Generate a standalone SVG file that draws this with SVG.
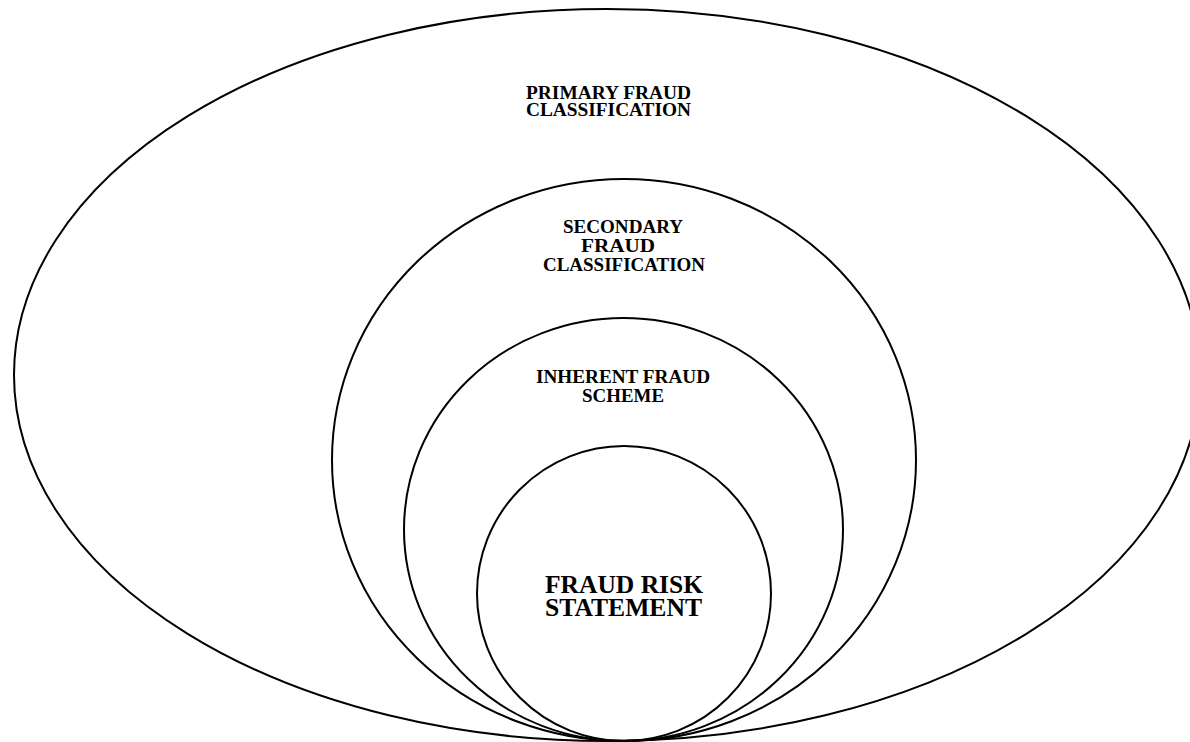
<svg xmlns="http://www.w3.org/2000/svg" width="1190" height="742" viewBox="0 0 1190 742">
<style>
.ring{fill:none;stroke:#000;stroke-width:2}
.lbl{font-family:"Liberation Serif","Times New Roman",serif;font-weight:bold;fill:#000;text-anchor:middle}
.s{font-size:18px}
.b{font-size:25px}
</style>
<rect width="1190" height="742" fill="#fff"/>
<g id="primary">
<ellipse class="ring" cx="607" cy="375" rx="593" ry="366"/>
<text class="lbl s" x="608.5" y="99" textLength="165" lengthAdjust="spacingAndGlyphs">PRIMARY FRAUD</text>
<text class="lbl s" x="608.5" y="116" textLength="165" lengthAdjust="spacingAndGlyphs">CLASSIFICATION</text>
</g>
<g id="secondary">
<ellipse class="ring" cx="624" cy="460" rx="292" ry="281"/>
<text class="lbl s" x="623" y="233" textLength="120" lengthAdjust="spacingAndGlyphs">SECONDARY</text>
<text class="lbl s" x="618" y="252" textLength="74" lengthAdjust="spacingAndGlyphs">FRAUD</text>
<text class="lbl s" x="624" y="271" textLength="162" lengthAdjust="spacingAndGlyphs">CLASSIFICATION</text>
</g>
<g id="inherent">
<ellipse class="ring" cx="623.5" cy="529.5" rx="219.5" ry="211.5"/>
<text class="lbl s" x="623" y="383" textLength="174" lengthAdjust="spacingAndGlyphs">INHERENT FRAUD</text>
<text class="lbl s" x="623" y="402" textLength="82" lengthAdjust="spacingAndGlyphs">SCHEME</text>
</g>
<g id="statement">
<ellipse class="ring" cx="624" cy="593.5" rx="147" ry="147.5"/>
<text class="lbl b" x="624" y="593" textLength="158" lengthAdjust="spacingAndGlyphs">FRAUD RISK</text>
<text class="lbl b" x="623.5" y="616" textLength="157" lengthAdjust="spacingAndGlyphs">STATEMENT</text>
</g>
<g id="connectors"/>
</svg>
